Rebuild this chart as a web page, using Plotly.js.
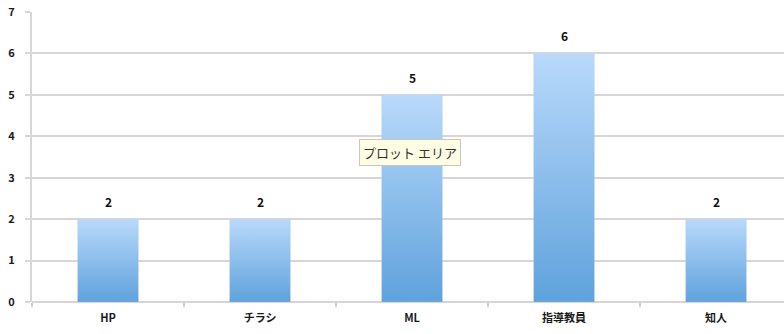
<!DOCTYPE html>
<html><head><meta charset="utf-8">
<script src="https://cdn.plot.ly/plotly-3.0.1.min.js"></script>
<style>html,body{margin:0;padding:0;background:#fff;overflow:hidden}#chart{width:784px;height:334px}</style>
</head><body><div id="chart"></div>
<script>
const categories = ["HP", "チラシ", "ML", "指導教員", "知人"];
const counts = [2, 2, 5, 6, 2];
const yTicks = [0, 1, 2, 3, 4, 5, 6, 7];
const tooltipText = "プロット エリア";

const FONT = '"Noto Sans CJK JP", "Noto Sans", sans-serif';

const trace = {
  type: 'bar',
  x: categories,
  y: counts,
  width: 0.4,
  marker: {color: '#8dbdee', line: {color: 'rgba(200,210,220,0.6)', width: 0.5}},
  hoverinfo: 'none'
};

const labelAnnotations = categories.map((c, i) => ({
  xref: 'x', yref: 'y', x: c, y: counts[i],
  xanchor: 'center', yanchor: 'bottom', yshift: 7,
  text: String(counts[i]), showarrow: false,
  font: {family: FONT, size: 12, color: '#111', weight: 'bold'}
}));

const layout = {
  width: 784, height: 334,
  margin: {l: 32, r: 0, t: 12, b: 32, pad: 0},
  paper_bgcolor: '#fff', plot_bgcolor: '#fff',
  showlegend: false,
  bargap: 0.6,
  font: {family: FONT, size: 11, color: '#1a1a1a'},
  xaxis: {
    type: 'category',
    range: [-0.5, 4.447],
    showgrid: false,
    showline: false,
    zeroline: false,
    ticks: 'outside', tickson: 'boundaries', ticklen: 4, tickcolor: '#cfcfcf', tickwidth: 1.5,
    ticklabelstandoff: 8,
    tickfont: {family: FONT, size: 11, color: '#1a1a1a', weight: 'bold'}
  },
  yaxis: {
    range: [0, 7],
    tickvals: yTicks,
    ticktext: yTicks.map(String),
    showgrid: true, gridcolor: '#d6d6d6', gridwidth: 2,
    showline: true, linecolor: '#d6d6d6', linewidth: 2,
    zeroline: true, zerolinecolor: '#d6d6d6', zerolinewidth: 2,
    ticks: 'outside', ticklen: 5, tickcolor: '#d6d6d6', tickwidth: 2,
    ticklabelstandoff: 8,
    tickfont: {family: FONT, size: 11, color: '#1a1a1a', weight: 'bold'}
  },
  annotations: labelAnnotations.concat([{
    xref: 'paper', yref: 'paper', x: 0.503, y: 0.517,
    xanchor: 'center', yanchor: 'middle',
    text: tooltipText, showarrow: false,
    font: {family: FONT, size: 13, color: '#333'},
    bgcolor: '#fdfde3', bordercolor: '#c8c8b8', borderwidth: 1, borderpad: 3
  }])
};

Plotly.newPlot('chart', [trace], layout, {staticPlot: true, displayModeBar: false}).then(gd => {
  const svg = gd.querySelector('svg.main-svg');
  const ns = 'http://www.w3.org/2000/svg';
  let defs = svg.querySelector('defs');
  if (!defs) { defs = document.createElementNS(ns, 'defs'); svg.insertBefore(defs, svg.firstChild); }
  const g = document.createElementNS(ns, 'linearGradient');
  g.setAttribute('id', 'barGrad');
  g.setAttribute('x1', '0'); g.setAttribute('y1', '0');
  g.setAttribute('x2', '0'); g.setAttribute('y2', '1');
  [['0', '#b9d9fb'], ['1', '#5fa2dc']].forEach(([o, c]) => {
    const s = document.createElementNS(ns, 'stop');
    s.setAttribute('offset', o); s.setAttribute('stop-color', c);
    g.appendChild(s);
  });
  defs.appendChild(g);
  gd.querySelectorAll('.trace.bars .point path').forEach(p => { p.style.fill = 'url(#barGrad)'; });
});
</script>
</body></html>
